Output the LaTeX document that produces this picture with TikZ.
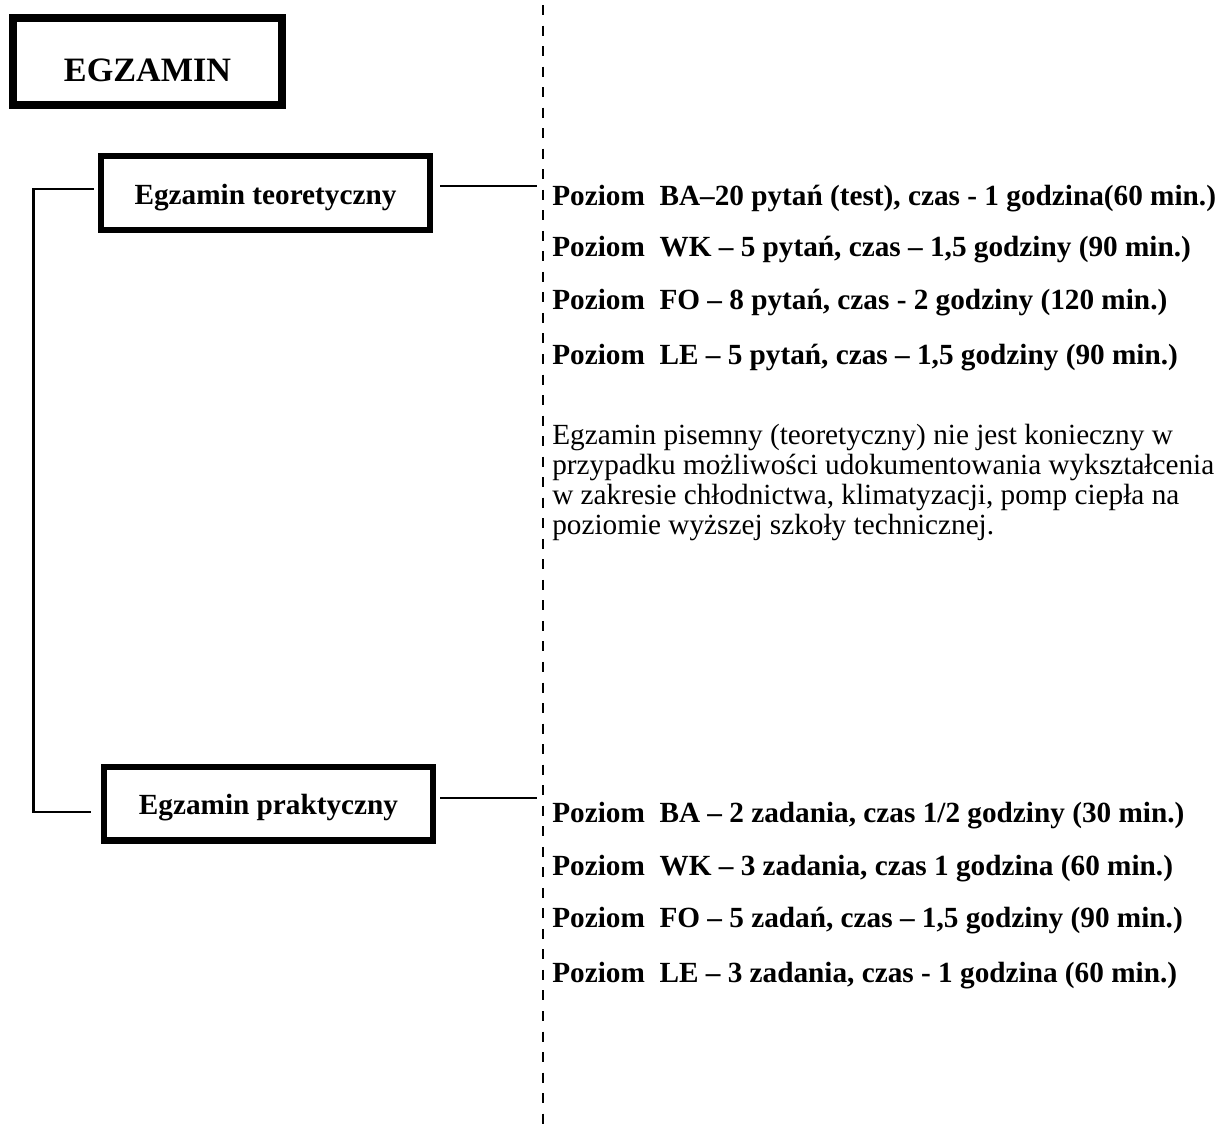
\documentclass[tikz,border=0pt]{standalone}
\usepackage{fontspec}
\setmainfont{Liberation Serif}
\usetikzlibrary{positioning}

\begin{document}
\begin{tikzpicture}[x=0.025cm, y=-0.025cm,
    titlebox/.style={draw, line width=5.7pt, minimum width=191.3pt, minimum height=61.9pt, inner sep=0pt, font=\fontsize{24.3}{29}\selectfont\bfseries, text height=29pt, text depth=0pt},
    partbox/.style={draw, line width=4.3pt, minimum width=234pt, minimum height=52.6pt, inner sep=0pt, font=\fontsize{20.8}{25}\selectfont\bfseries, text height=19pt, text depth=3pt},
    level/.style={anchor=base west, inner sep=0pt, font=\fontsize{20.8}{25}\selectfont\bfseries},
    note/.style={anchor=base west, inner sep=0pt, font=\fontsize{20.8}{25}\selectfont},
    link/.style={line width=1.6pt},
    divider/.style={line width=2.1pt, dash pattern=on 7.1pt off 7.5pt}]
    \useasboundingbox (0,0) rectangle (1223,1126);

    \node[titlebox] (egz) at (147.5,61.5) {EGZAMIN};
    \node[partbox] (teo) at (265.5,193) {Egzamin teoretyczny};
    \node[partbox] (pra) at (268.5,803.5) {Egzamin praktyczny};

    \coordinate (div-top) at (543,5);
    \coordinate (div-bot) at (543,1126);
    \draw[divider] (div-top) -- (div-bot);

    \coordinate (rail-top) at (33.5,189);
    \coordinate (rail-bot) at (33.5,812);
    \draw[link] ([xshift=-2.85pt]teo.west |- rail-top) -- (rail-top) -- (rail-bot) -- ([xshift=-7.1pt]pra.west |- rail-bot);

    \coordinate (teo-tip) at (537,186);
    \coordinate (pra-tip) at (537,798);
    \draw[link] ([xshift=5pt]teo.east |- teo-tip) -- (teo-tip);
    \draw[link] ([xshift=2.85pt]pra.east |- pra-tip) -- (pra-tip);

    \node[level] (teo-ba) at (552,205) {Poziom\ \ BA–20 pytań (test), czas - 1 godzina(60 min.)};
    \node[level] (teo-wk) at (552,256) {Poziom\ \ WK – 5 pytań, czas – 1,5 godziny (90 min.)};
    \node[level] (teo-fo) at (552,309) {Poziom\ \ FO – 8 pytań, czas - 2 godziny (120 min.)};
    \node[level] (teo-le) at (552,364) {Poziom\ \ LE – 5 pytań, czas – 1,5 godziny (90 min.)};

    \node[note] (note-1) at (552,444) {Egzamin pisemny (teoretyczny) nie jest konieczny w};
    \node[note] (note-2) at (552,474) {przypadku możliwości udokumentowania wykształcenia};
    \node[note] (note-3) at (552,504) {w zakresie chłodnictwa, klimatyzacji, pomp ciepła na};
    \node[note] (note-4) at (552,534) {poziomie wyższej szkoły technicznej.};

    \node[level] (pra-ba) at (552,822) {Poziom\ \ BA – 2 zadania, czas 1/2 godziny (30 min.)};
    \node[level] (pra-wk) at (552,875) {Poziom\ \ WK – 3 zadania, czas 1 godzina (60 min.)};
    \node[level] (pra-fo) at (552,927) {Poziom\ \ FO – 5 zadań, czas – 1,5 godziny (90 min.)};
    \node[level] (pra-le) at (552,982) {Poziom\ \ LE – 3 zadania, czas - 1 godzina (60 min.)};
\end{tikzpicture}
\end{document}
